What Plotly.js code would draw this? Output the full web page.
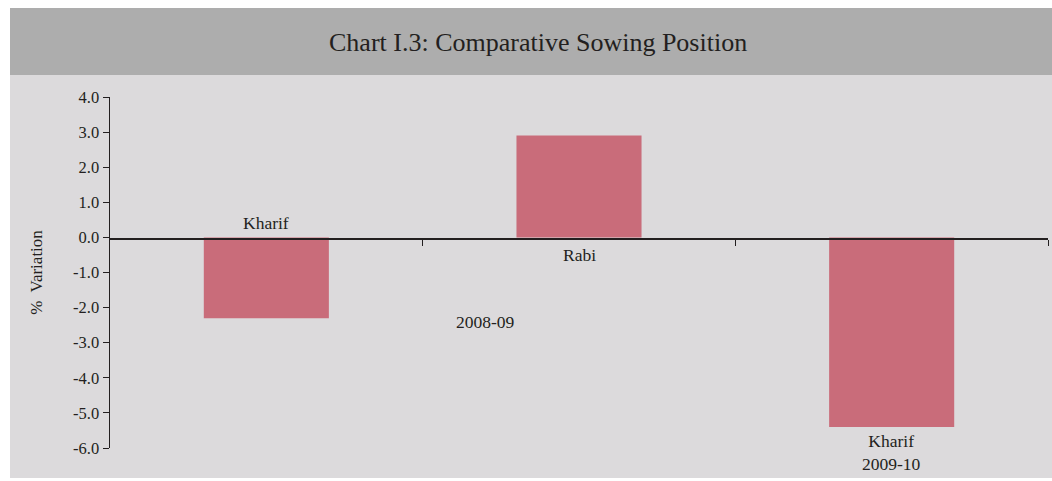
<!DOCTYPE html>
<html>
<head>
<meta charset="utf-8">
<script src="https://cdn.plot.ly/plotly-3.0.1.min.js"></script>
<style>
  body { margin: 0; background: #ffffff; }
  #chart { width: 1052px; height: 481px; }
</style>
</head>
<body>
<div id="chart"></div>
<script>
// sowing position, % variation
const crops = ['Kharif', 'Rabi', 'Kharif'];
const variation = [-2.3, 2.9, -5.4];
const yearLabels = ['2008-09', '2009-10'];
const yTicks = [4, 3, 2, 1, 0, -1, -2, -3, -4, -5, -6];

const barColor = '#c96c7a';
const textColor = '#231f20';
const serif = 'Liberation Serif, DejaVu Serif, serif';

const xs = crops.map((c, i) => i);

const trace = {
    x: xs,
    y: variation,
    type: 'bar',
    width: 0.4,
    marker: { color: barColor },
    hoverinfo: 'skip'
};

// px -> paper helpers (plot area 110..1048 x 97..448)
function px(x) { return (x - 110) / 938; }
function py(y) { return (448 - y) / 351; }

const annotations = [];
// first two bars: label on the other side of the zero line
annotations.push({ x: xs[0], y: 0, text: crops[0], yanchor: 'bottom', yshift: 2 });
annotations.push({ x: xs[1], y: 0, text: crops[1], yanchor: 'top', yshift: -6 });
// last bar: label under the bar with its year
annotations.push({ x: xs[2], y: variation[2], text: crops[2] + '<br>' + yearLabels[1], yanchor: 'top', yshift: -2 });
// year for first two bars
annotations.push({ x: 0.7, y: -2.42, text: yearLabels[0], yanchor: 'middle' });
annotations.forEach(a => {
    a.xref = 'x'; a.yref = 'y'; a.showarrow = false;
    a.font = { family: serif, size: 17.5, color: textColor };
});
annotations.push({
    xref: 'paper', yref: 'paper', x: px(538), y: py(42),
    text: 'Chart I.3: Comparative Sowing Position',
    showarrow: false, yanchor: 'middle',
    font: { family: serif, size: 26, color: textColor }
});

const layout = {
    width: 1052,
    height: 481,
    margin: { l: 110, r: 4, t: 97, b: 33 },
    paper_bgcolor: '#ffffff',
    plot_bgcolor: 'rgba(0,0,0,0)',
    showlegend: false,
    xaxis: {
        range: [-0.5, 2.5],
        anchor: 'free',
        position: py(238),
        showgrid: false,
        zeroline: false,
        showline: true,
        linecolor: textColor,
        linewidth: 1.5,
        ticks: 'outside',
        ticklen: 6,
        tickcolor: textColor,
        tickvals: [0.5, 1.5, 2.5],
        showticklabels: false,
        fixedrange: true
    },
    yaxis: {
        range: [-6, 4],
        showgrid: false,
        zeroline: false,
        showline: true,
        linecolor: textColor,
        linewidth: 1.5,
        ticks: 'outside',
        ticklen: 6,
        tickcolor: textColor,
        tickvals: yTicks,
        ticktext: yTicks.map(v => v.toFixed(1)),
        tickfont: { family: serif, size: 16.5, color: textColor },
        title: { text: '%  Variation', standoff: 26, font: { family: serif, size: 17, color: textColor } },
        fixedrange: true
    },
    shapes: [
        { type: 'rect', xref: 'paper', yref: 'paper', layer: 'below',
          x0: px(10), x1: px(1052), y0: py(478), y1: py(75),
          fillcolor: '#dcdadc', line: { width: 0 } },
        { type: 'rect', xref: 'paper', yref: 'paper', layer: 'below',
          x0: px(10), x1: px(1052), y0: py(75), y1: py(8),
          fillcolor: '#adadad', line: { width: 0 } }
    ],
    annotations: annotations
};

Plotly.newPlot('chart', [trace], layout, { displayModeBar: false, staticPlot: true });
</script>
</body>
</html>
